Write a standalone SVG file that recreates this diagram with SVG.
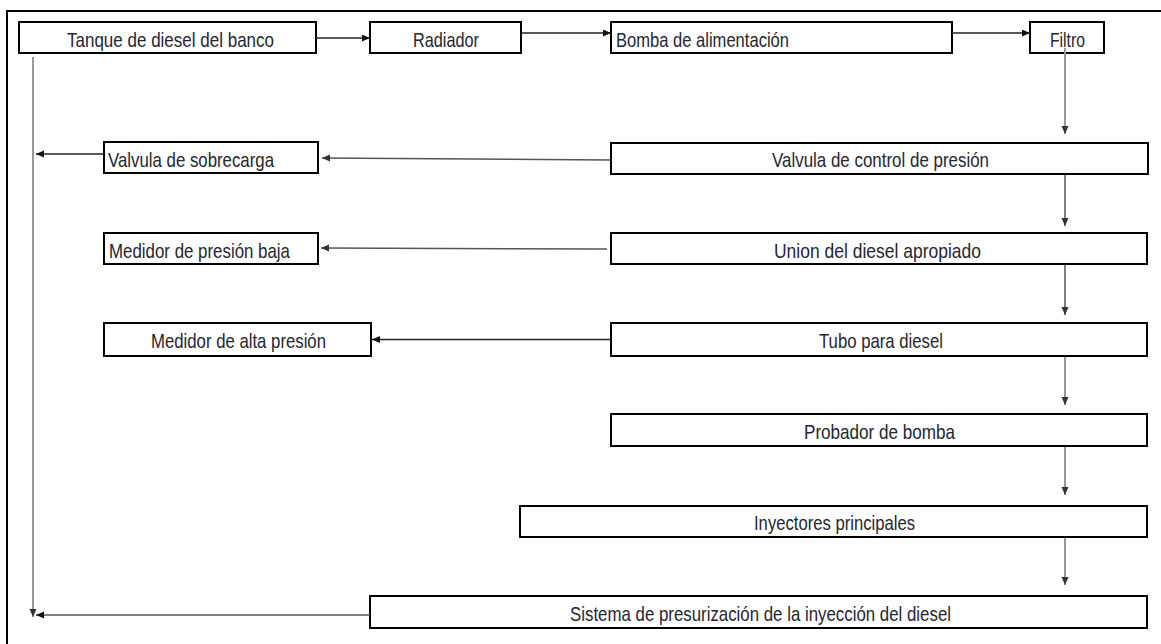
<svg xmlns="http://www.w3.org/2000/svg" width="1161" height="644" viewBox="0 0 1161 644">
<style>
.box{fill:#fff;stroke:#000;stroke-width:2}
.lbl{font-family:"Liberation Sans",Arial,sans-serif;font-size:21px;fill:#262630}
.c{fill:none;stroke-width:1.5}
.dk{stroke:#222}
.md{stroke:#555}
.gy{stroke:#999;stroke-width:2}
</style>
<defs>
<marker id="ad" markerUnits="userSpaceOnUse" markerWidth="9" markerHeight="8" refX="8" refY="3.5" orient="auto"><path d="M0,0 L8,3.5 L0,7 z" fill="#111"/></marker>
<marker id="ag" markerUnits="userSpaceOnUse" markerWidth="9" markerHeight="8" refX="8" refY="3.5" orient="auto"><path d="M0,0 L8,3.5 L0,7 z" fill="#333"/></marker>
</defs>
<g id="frame"><path d="M7,644 V11 H1161" fill="none" stroke="#000" stroke-width="2"/></g>
<g id="tanque"><rect class="box" x="19" y="22" width="297" height="31"/><text class="lbl" x="67" y="46.5" textLength="207" lengthAdjust="spacingAndGlyphs">Tanque de diesel del banco</text></g>
<g id="radiador"><rect class="box" x="370" y="22" width="151" height="31"/><text class="lbl" x="413" y="46.5" textLength="66" lengthAdjust="spacingAndGlyphs">Radiador</text></g>
<g id="bomba"><rect class="box" x="611" y="22" width="341" height="31"/><text class="lbl" x="616" y="46.5" textLength="173" lengthAdjust="spacingAndGlyphs">Bomba de alimentación</text></g>
<g id="filtro"><rect class="box" x="1030" y="22" width="74" height="31"/><text class="lbl" x="1050" y="46.5" textLength="35" lengthAdjust="spacingAndGlyphs">Filtro</text></g>
<g id="vcontrol"><rect class="box" x="611" y="143" width="537" height="31"/><text class="lbl" x="772" y="166.5" textLength="217" lengthAdjust="spacingAndGlyphs">Valvula de control de presión</text></g>
<g id="vsobrecarga"><rect class="box" x="104" y="142" width="214" height="31"/><text class="lbl" x="108" y="166.5" textLength="166" lengthAdjust="spacingAndGlyphs">Valvula de sobrecarga</text></g>
<g id="union"><rect class="box" x="611" y="233" width="536" height="31"/><text class="lbl" x="774" y="257.5" textLength="207" lengthAdjust="spacingAndGlyphs">Union del diesel apropiado</text></g>
<g id="mbaja"><rect class="box" x="104" y="233" width="214" height="31"/><text class="lbl" x="109" y="257.5" textLength="181" lengthAdjust="spacingAndGlyphs">Medidor de presión baja</text></g>
<g id="tubo"><rect class="box" x="611" y="323" width="536" height="33"/><text class="lbl" x="819" y="348" textLength="124" lengthAdjust="spacingAndGlyphs">Tubo para diesel</text></g>
<g id="malta"><rect class="box" x="104" y="323" width="267" height="33"/><text class="lbl" x="151" y="348" textLength="175" lengthAdjust="spacingAndGlyphs">Medidor de alta presión</text></g>
<g id="probador"><rect class="box" x="611" y="414" width="536" height="32"/><text class="lbl" x="804" y="438.5" textLength="151" lengthAdjust="spacingAndGlyphs">Probador de bomba</text></g>
<g id="inyectores"><rect class="box" x="520" y="506" width="627" height="31"/><text class="lbl" x="754" y="530" textLength="161" lengthAdjust="spacingAndGlyphs">Inyectores principales</text></g>
<g id="sistema"><rect class="box" x="370" y="596" width="777" height="32"/><text class="lbl" x="570" y="620.5" textLength="381" lengthAdjust="spacingAndGlyphs">Sistema de presurización de la inyección del diesel</text></g>
<g id="connectors">
<line class="c dk" x1="316" y1="38" x2="370" y2="38" marker-end="url(#ad)"/>
<line class="c dk" x1="521" y1="33" x2="611" y2="33" marker-end="url(#ad)"/>
<line class="c dk" x1="952" y1="33" x2="1030" y2="33" marker-end="url(#ad)"/>
<line class="c gy" x1="1065" y1="48" x2="1065" y2="134" marker-end="url(#ag)"/>
<line class="c md" x1="1065" y1="175" x2="1065" y2="226" marker-end="url(#ag)"/>
<line class="c md" x1="1065" y1="265" x2="1065" y2="315" marker-end="url(#ag)"/>
<line class="c gy" x1="1065" y1="357" x2="1065" y2="405" marker-end="url(#ag)"/>
<line class="c gy" x1="1065" y1="447" x2="1065" y2="495" marker-end="url(#ag)"/>
<line class="c gy" x1="1065" y1="538" x2="1065" y2="585" marker-end="url(#ag)"/>
<line class="c md" x1="611" y1="160" x2="322" y2="158" marker-end="url(#ag)"/>
<line class="c md" x1="607" y1="249" x2="321" y2="248" marker-end="url(#ag)"/>
<line class="c dk" x1="611" y1="339.5" x2="372" y2="339.5" marker-end="url(#ad)"/>
<line class="c dk" x1="104" y1="154" x2="36" y2="154" marker-end="url(#ad)"/>
<line class="c gy" x1="33" y1="57" x2="33" y2="617" marker-end="url(#ag)"/>
<line class="c md" x1="370" y1="615" x2="36" y2="615" marker-end="url(#ad)"/>
</g>
</svg>
